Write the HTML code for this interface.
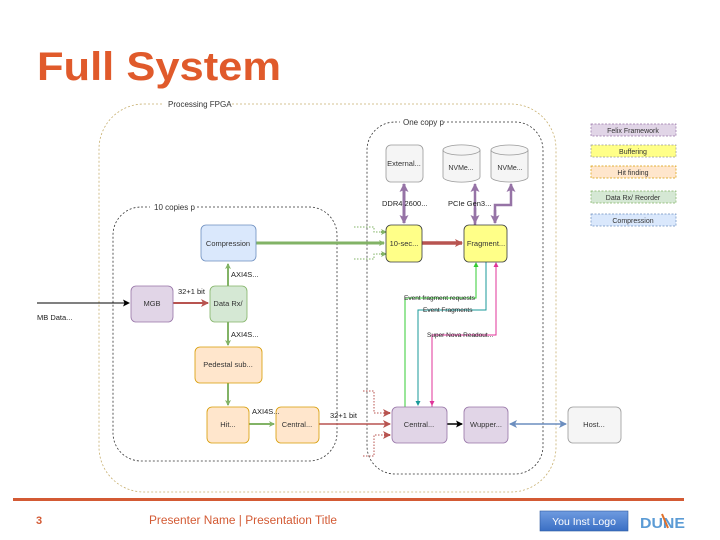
<!DOCTYPE html>
<html><head><meta charset="utf-8"><style>
html,body{margin:0;padding:0;background:#fff;}
svg{display:block;font-family:"Liberation Sans",sans-serif;}
</style></head><body>
<svg width="720" height="540" viewBox="0 0 720 540" xmlns="http://www.w3.org/2000/svg">
<defs>
<marker id="ag" markerWidth="6" markerHeight="6" refX="5" refY="3" orient="auto" markerUnits="userSpaceOnUse"><path d="M0,0 L6,3 L0,6 L1.5,3z" fill="#82b366"/></marker>
<marker id="ar" markerWidth="8" markerHeight="8" refX="7" refY="4" orient="auto" markerUnits="userSpaceOnUse"><path d="M0,0 L8,4 L0,8 L2,4z" fill="#b85450"/></marker>
<marker id="ap" markerWidth="9" markerHeight="9" refX="8" refY="4.5" orient="auto-start-reverse" markerUnits="userSpaceOnUse"><path d="M0,0 L9,4.5 L0,9 L2,4.5z" fill="#9673a6"/></marker>
<marker id="ak" markerWidth="7" markerHeight="7" refX="6" refY="3.5" orient="auto" markerUnits="userSpaceOnUse"><path d="M0,0 L7,3.5 L0,7 L1.5,3.5z" fill="#000"/></marker>
<marker id="ab" markerWidth="8" markerHeight="8" refX="7" refY="4" orient="auto-start-reverse" markerUnits="userSpaceOnUse"><path d="M0,0 L8,4 L0,8 L2,4z" fill="#6c8ebf"/></marker>
<marker id="agr" markerWidth="5" markerHeight="5" refX="4" refY="2.5" orient="auto" markerUnits="userSpaceOnUse"><path d="M0,0 L5,2.5 L0,5z" fill="#33cc33"/></marker>
<marker id="at" markerWidth="5" markerHeight="5" refX="4" refY="2.5" orient="auto" markerUnits="userSpaceOnUse"><path d="M0,0 L5,2.5 L0,5z" fill="#1a9a9a"/></marker>
<marker id="am" markerWidth="5" markerHeight="5" refX="4" refY="2.5" orient="auto" markerUnits="userSpaceOnUse"><path d="M0,0 L5,2.5 L0,5z" fill="#e0339a"/></marker>
</defs>

<text x="37" y="80" font-size="40" font-weight="bold" fill="#e05a2b" textLength="244" lengthAdjust="spacingAndGlyphs">Full System</text>

<!-- containers -->
<rect x="99" y="104" width="457" height="388" rx="45" fill="none" stroke="#c8b070" stroke-width="0.8" stroke-dasharray="2,2"/>
<rect x="162" y="98" width="70" height="12" fill="#fff"/>
<text x="168" y="107" font-size="8" fill="#333">Processing FPGA</text>
<rect x="113" y="207" width="224" height="254" rx="28" fill="none" stroke="#333" stroke-width="0.8" stroke-dasharray="2,2"/>
<rect x="150" y="202" width="46" height="12" fill="#fff"/>
<text x="154" y="210" font-size="8" fill="#333">10 copies p</text>
<rect x="367" y="122" width="176" height="352" rx="28" fill="none" stroke="#333" stroke-width="0.8" stroke-dasharray="2,2"/>
<rect x="400" y="117" width="44" height="12" fill="#fff"/>
<text x="403" y="125" font-size="8" fill="#333">One copy p</text>

<!-- legend -->
<g font-size="7" text-anchor="middle" fill="#333" stroke-dasharray="2,1.5" stroke-width="0.7">
<rect x="591" y="124" width="85" height="12" fill="#e1d5e7" stroke="#9673a6"/><text x="633" y="133" stroke="none">Felix Framework</text>
<rect x="591" y="145" width="85" height="12" fill="#ffff88" stroke="#999"/><text x="633" y="154" stroke="none">Buffering</text>
<rect x="591" y="166" width="85" height="12" fill="#ffe6cc" stroke="#d79b00"/><text x="633" y="175" stroke="none">Hit finding</text>
<rect x="591" y="191" width="85" height="12" fill="#d5e8d4" stroke="#82b366"/><text x="633" y="200" stroke="none">Data Rx/ Reorder</text>
<rect x="591" y="214" width="85" height="12" fill="#dae8fc" stroke="#6c8ebf"/><text x="633" y="223" stroke="none">Compression</text>
</g>

<!-- connectors -->
<g fill="none">
<line x1="256" y1="243" x2="384" y2="243" stroke="#82b366" stroke-width="3" marker-end="url(#ag)"/>
<line x1="422" y1="243" x2="462" y2="243" stroke="#b85450" stroke-width="3.5" marker-end="url(#ar)"/>
<line x1="404" y1="184" x2="404" y2="223" stroke="#9673a6" stroke-width="3" marker-start="url(#ap)" marker-end="url(#ap)"/>
<line x1="475" y1="225" x2="475" y2="184" stroke="#9673a6" stroke-width="2.5" marker-end="url(#ap)"/>
<path d="M475,208 L475,223" stroke="#9673a6" stroke-width="2.5" marker-end="url(#ap)"/>
<path d="M495,223 L495,205 L511,205 L511,184" stroke="#9673a6" stroke-width="2.5" marker-end="url(#ap)"/>
<line x1="495" y1="210" x2="495" y2="223" stroke="#9673a6" stroke-width="2.5" marker-end="url(#ap)"/>
<line x1="228" y1="286" x2="228" y2="264" stroke="#82b366" stroke-width="2" marker-end="url(#ag)"/>
<line x1="228" y1="322" x2="228" y2="345" stroke="#82b366" stroke-width="2" marker-end="url(#ag)"/>
<line x1="228" y1="383" x2="228" y2="405" stroke="#82b366" stroke-width="2" marker-end="url(#ag)"/>
<line x1="249" y1="424" x2="274" y2="424" stroke="#82b366" stroke-width="2" marker-end="url(#ag)"/>
<line x1="173" y1="303" x2="208" y2="303" stroke="#b85450" stroke-width="2" marker-end="url(#ar)"/>
<line x1="37" y1="303" x2="129" y2="303" stroke="#000" stroke-width="1" marker-end="url(#ak)"/>
<line x1="319" y1="424" x2="390" y2="424" stroke="#b85450" stroke-width="1.5" marker-end="url(#ar)"/>
<line x1="447" y1="424" x2="462" y2="424" stroke="#000" stroke-width="1.5" marker-end="url(#ak)"/>
<line x1="510" y1="424" x2="566" y2="424" stroke="#6c8ebf" stroke-width="1.5" marker-start="url(#ab)" marker-end="url(#ab)"/>
<path d="M405,407 L405,298 L476,298 L476,263" stroke="#33cc33" stroke-width="1" marker-end="url(#agr)"/>
<path d="M486,262 L486,310 L418,310 L418,405" stroke="#1a9a9a" stroke-width="1" marker-end="url(#at)"/>
<path d="M432,407 L432,335 L496,335 L496,263" stroke="#e0339a" stroke-width="1" transform="" />
<line x1="496" y1="270" x2="496" y2="263" stroke="#e0339a" stroke-width="1" marker-end="url(#am)"/>
<line x1="432" y1="340" x2="432" y2="405" stroke="#e0339a" stroke-width="1" marker-end="url(#am)"/>
<!-- dotted stubs -->
<g stroke="#82b366" stroke-width="1" stroke-dasharray="1.5,1.5">
<path d="M354,227 L374,227 L374,232 L384,232"/><path d="M354,259 L374,259 L374,254 L384,254"/>
</g>
<g stroke="#b85450" stroke-width="1" stroke-dasharray="1.5,1.5">
<path d="M363,391 L374,391 L374,413 L389,413"/><path d="M363,456 L374,456 L374,435 L389,435"/>
</g>
<path d="M381,232 L386,232" stroke="#82b366" stroke-width="2" marker-end="url(#ag)"/>
<path d="M381,254 L386,254" stroke="#82b366" stroke-width="2" marker-end="url(#ag)"/>
<path d="M384,413 L390,413" stroke="#b85450" stroke-width="2" marker-end="url(#ar)"/>
<path d="M384,435 L390,435" stroke="#b85450" stroke-width="2" marker-end="url(#ar)"/>
</g>

<!-- boxes -->
<g font-size="7.5" text-anchor="middle" fill="#333" stroke-width="0.8">
<rect x="386" y="145" width="37" height="37" rx="5" fill="#f5f5f5" stroke="#999"/><text x="404" y="166" stroke="none">External...</text>
<g fill="#f5f5f5" stroke="#999">
<path d="M443,150 L443,177 A18,5 0 0 0 480,177 L480,150 A18,5 0 0 0 443,150 Z"/><path d="M443,150 A18,5 0 0 0 480,150" fill="none"/>
<path d="M491,150 L491,177 A18.5,5 0 0 0 528,177 L528,150 A18.5,5 0 0 0 491,150 Z"/><path d="M491,150 A18.5,5 0 0 0 528,150" fill="none"/>
</g>
<text x="461" y="170" stroke="none" font-size="7">NVMe...</text><text x="510" y="170" stroke="none" font-size="7">NVMe...</text>
<rect x="201" y="225" width="55" height="36" rx="5" fill="#dae8fc" stroke="#6c8ebf"/><text x="228" y="246" stroke="none">Compression</text>
<rect x="386" y="225" width="36" height="37" rx="5" fill="#ffff88" stroke="#36393d"/><text x="404" y="246" stroke="none">10-sec...</text>
<rect x="464" y="225" width="43" height="37" rx="5" fill="#ffff88" stroke="#36393d"/><text x="486" y="246" stroke="none">Fragment...</text>
<rect x="131" y="286" width="42" height="36" rx="5" fill="#e1d5e7" stroke="#9673a6"/><text x="152" y="306" stroke="none">MGB</text>
<rect x="210" y="286" width="37" height="36" rx="5" fill="#d5e8d4" stroke="#82b366"/><text x="228" y="306" stroke="none">Data Rx/</text>
<rect x="195" y="347" width="67" height="36" rx="5" fill="#ffe6cc" stroke="#d79b00"/><text x="228" y="367" stroke="none">Pedestal sub...</text>
<rect x="207" y="407" width="42" height="36" rx="5" fill="#ffe6cc" stroke="#d79b00"/><text x="228" y="427" stroke="none">Hit...</text>
<rect x="276" y="407" width="43" height="36" rx="5" fill="#ffe6cc" stroke="#d79b00"/><text x="297" y="427" stroke="none">Central...</text>
<rect x="392" y="407" width="55" height="36" rx="5" fill="#e1d5e7" stroke="#9673a6"/><text x="419" y="427" stroke="none">Central...</text>
<rect x="464" y="407" width="44" height="36" rx="5" fill="#e1d5e7" stroke="#9673a6"/><text x="486" y="427" stroke="none">Wupper...</text>
<rect x="568" y="407" width="53" height="36" rx="5" fill="#f5f5f5" stroke="#999"/><text x="594" y="427" stroke="none">Host...</text>
</g>

<!-- labels -->
<g font-size="7.5" fill="#222">
<text x="382" y="206">DDR4 2600...</text>
<text x="448" y="206">PCIe Gen3...</text>
<text x="231" y="277">AXI4S...</text>
<text x="178" y="294">32+1 bit</text>
<text x="231" y="337">AXI4S...</text>
<text x="252" y="414">AXI4S...</text>
<text x="330" y="418">32+1 bit</text>
<text x="37" y="320">MB Data...</text>
<text x="404" y="300" font-size="6.5">Event fragment requests</text>
<text x="423" y="312" font-size="6.5">Event Fragments</text>
<text x="427" y="337" font-size="6.5">Super Nova Readout...</text>
</g>

<!-- footer -->
<rect x="13" y="498" width="671" height="3" fill="#d35a34"/>
<text x="36" y="524" font-size="11" font-weight="bold" fill="#d35a34">3</text>
<text x="149" y="524" font-size="11.5" fill="#d35a34" textLength="188" lengthAdjust="spacingAndGlyphs">Presenter Name | Presentation Title</text>
<defs><linearGradient id="lg" x1="0" y1="0" x2="0" y2="1"><stop offset="0" stop-color="#6f9be0"/><stop offset="1" stop-color="#3a6fc4"/></linearGradient></defs>
<rect x="540" y="511" width="88" height="20" fill="url(#lg)" stroke="#2d5aa0" stroke-width="0.6"/>
<text x="584" y="525" font-size="10.5" fill="#fff" text-anchor="middle">You Inst Logo</text>
<text x="640" y="528" font-size="15" font-weight="bold" fill="#5b9bd5" textLength="45" lengthAdjust="spacingAndGlyphs">DUNE</text>
<path d="M662,514 L668,528" stroke="#e0702a" stroke-width="2"/>
</svg>
</body></html>
